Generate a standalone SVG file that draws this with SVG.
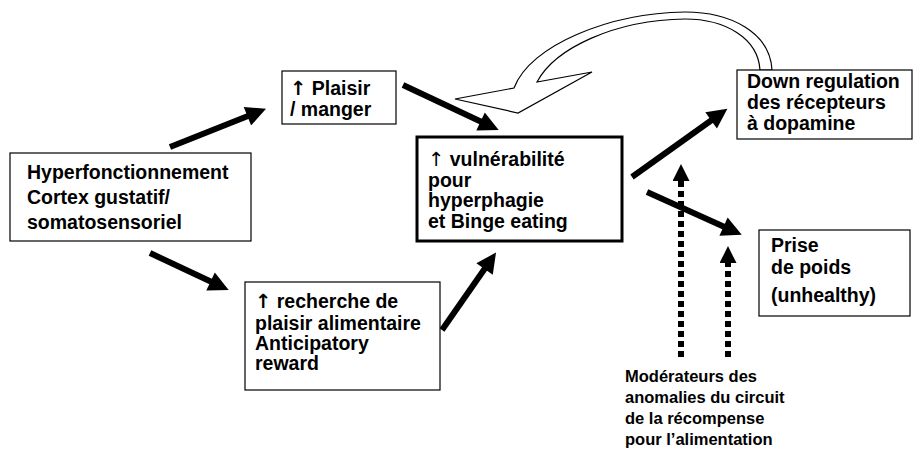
<svg xmlns="http://www.w3.org/2000/svg" width="923" height="452" viewBox="0 0 923 452">
<style>
.box{fill:#fff;stroke:#000;stroke-width:1.2}
.thick{fill:#fff;stroke:#000;stroke-width:3}
.t{font-family:"Liberation Sans",Arial,sans-serif;font-weight:bold;font-size:19.5px;fill:#000}
.s{font-family:"Liberation Sans",Arial,sans-serif;font-weight:bold;font-size:16.5px;fill:#000}
.up{font-family:"DejaVu Sans",sans-serif}
.arr{stroke:#000;stroke-width:6;fill:none;marker-end:url(#ah)}
.dot{stroke:#000;stroke-width:6;fill:none;stroke-dasharray:6 4;marker-end:url(#ahd)}
</style>
<defs>
<marker id="ah" viewBox="0 0 10 10" refX="3" refY="5" markerWidth="22" markerHeight="20" markerUnits="userSpaceOnUse" orient="auto"><path d="M0,0 L10,5 L0,10 z" fill="#000"/></marker>
<marker id="ahd" viewBox="0 0 10 10" refX="3" refY="5" markerWidth="20" markerHeight="17" markerUnits="userSpaceOnUse" orient="auto"><path d="M0,0 L10,5 L0,10 z" fill="#000"/></marker>
</defs>
<g id="connectors">
<line class="arr" x1="170" y1="147" x2="253" y2="114"/>
<line class="arr" x1="150" y1="253" x2="216" y2="284"/>
<line class="arr" x1="403" y1="85" x2="486" y2="124"/>
<line class="arr" x1="442" y1="330" x2="488" y2="264"/>
<line class="arr" x1="632" y1="177" x2="716" y2="117"/>
<line class="arr" x1="647" y1="192" x2="729" y2="229"/>
<line class="dot" x1="681" y1="357" x2="681" y2="176"/>
<line class="dot" x1="728" y1="357" x2="728" y2="258"/>
<path id="curved" d="M772 70 C770 32 730 12 685 12 C610 13 530 45 514 88 L455 99 L518 113 L592 72 L537 82 C555 48 615 20 685 19 C725 19 758 38 760 70 Z" fill="#fff" stroke="#000" stroke-width="1.2"/>
</g>
<g id="hyper">
<rect class="box" x="10" y="153" width="241" height="88"/>
<text class="t" x="27" y="179">Hyperfonctionnement</text>
<text class="t" x="27" y="204">Cortex gustatif/</text>
<text class="t" x="27" y="229">somatosensoriel</text>
</g>
<g id="plaisir">
<rect class="box" x="282" y="71" width="114" height="53"/>
<text class="t" x="290" y="95"><tspan class="up">↑</tspan> Plaisir</text>
<text class="t" x="290" y="116">/ manger</text>
</g>
<g id="recherche">
<rect class="box" x="245" y="282" width="195" height="108"/>
<text class="t" x="255" y="308"><tspan class="up">↑</tspan> recherche de</text>
<text class="t" x="255" y="330">plaisir alimentaire</text>
<text class="t" x="255" y="350">Anticipatory</text>
<text class="t" x="255" y="370">reward</text>
</g>
<g id="vulnerabilite">
<rect class="thick" x="417" y="137" width="205" height="104"/>
<text class="t" x="428" y="166"><tspan class="up" font-weight="normal">↑</tspan> vulnérabilité</text>
<text class="t" x="428" y="187">pour</text>
<text class="t" x="428" y="207">hyperphagie</text>
<text class="t" x="428" y="228">et Binge eating</text>
</g>
<g id="down">
<rect class="box" x="737" y="70" width="175" height="69"/>
<text class="t" x="747" y="88">Down regulation</text>
<text class="t" x="747" y="109">des récepteurs</text>
<text class="t" x="747" y="130">à dopamine</text>
</g>
<g id="prise">
<rect class="box" x="759" y="230" width="151" height="86"/>
<text class="t" x="771" y="252">Prise</text>
<text class="t" x="771" y="274">de poids</text>
<text class="t" x="771" y="302">(unhealthy)</text>
</g>
<g id="moderateurs">
<text class="s" x="625" y="382">Modérateurs des</text>
<text class="s" x="625" y="403">anomalies du circuit</text>
<text class="s" x="625" y="424">de la récompense</text>
<text class="s" x="625" y="445">pour l’alimentation</text>
</g>
</svg>
